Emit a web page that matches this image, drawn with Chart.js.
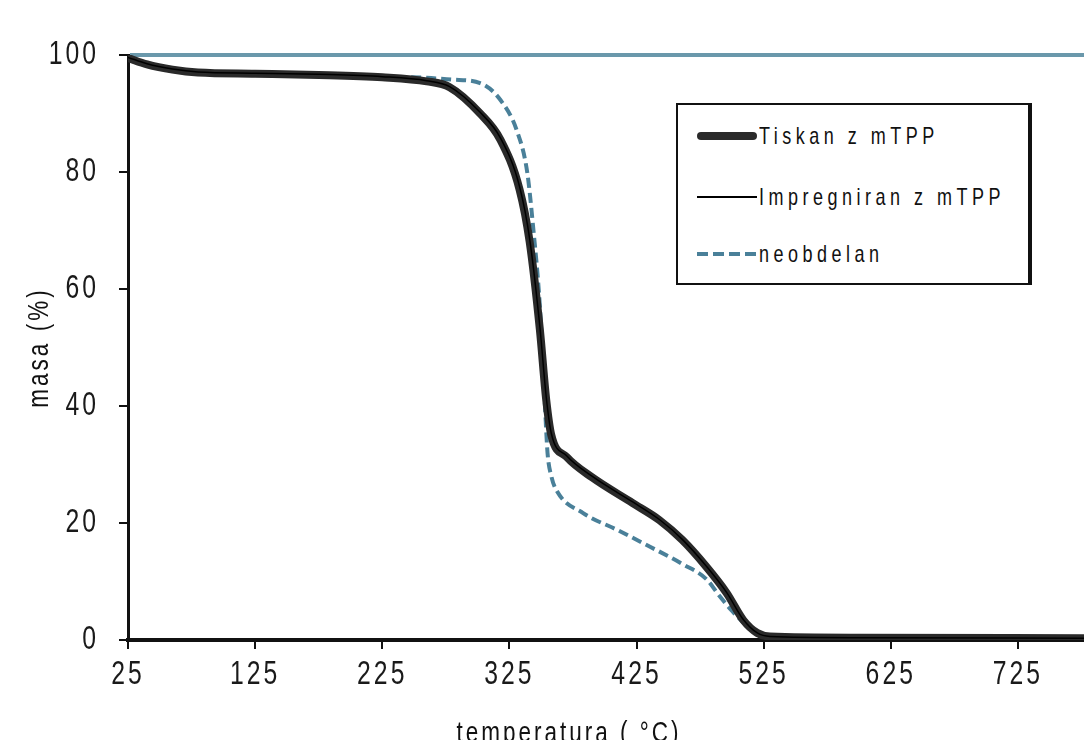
<!DOCTYPE html>
<html>
<head>
<meta charset="utf-8">
<script src="https://cdn.jsdelivr.net/npm/chart.js@4/dist/chart.umd.min.js"></script>
<style>
  html, body { margin: 0; padding: 0; background: #fff; overflow: hidden; }
  #wrap { position: relative; width: 1084px; height: 760px; }
  #legend {
    position: absolute; left: 676px; top: 103px; width: 350px; height: 178px;
    border: 2px solid #111; border-right-width: 4px; background: #fff;
    font-family: "Liberation Sans", Arial, sans-serif;
    font-size: 24px; letter-spacing: 6px; color: #111; white-space: nowrap;
  }
  .row { position: absolute; left: 19px; height: 30px; display: flex; align-items: center; }
  .swatch { width: 60px; margin-right: 2px; flex: none; }
  .row span { display: inline-block; transform: scaleX(0.75); transform-origin: left center; }
</style>
</head>
<body>
<div id="wrap">
  <canvas id="c"></canvas>
  <div id="legend"></div>
</div>
<script>
// temperature (°C) / mass (%)
var xTicks = [25, 125, 225, 325, 425, 525, 625, 725];
var yTicks = [0, 20, 40, 60, 80, 100];

var tiskanT = [25, 40, 60, 80, 125, 175, 225, 260, 278, 302, 318, 333, 341, 349, 354, 358, 370, 390, 422, 443, 461, 480, 496, 509, 520, 530, 600, 777];
var tiskanM = [99.5, 98.4, 97.5, 97, 96.8, 96.6, 96.2, 95.5, 94.5, 90, 85.5, 77, 68, 53, 41, 35, 31.3, 27.8, 23.4, 20.5, 17.1, 12.5, 8, 3.4, 1.2, 0.6, 0.4, 0.3];

var impregT = [25, 40, 60, 80, 125, 175, 225, 260, 278, 302, 318, 333, 341, 349, 354, 358, 370, 390, 422, 443, 461, 480, 496, 509, 520, 530, 600, 777];
var impregM = [99.6, 98.5, 97.6, 97.1, 96.9, 96.7, 96.3, 95.6, 94.6, 90.2, 85.8, 77.5, 68.5, 53.5, 41.5, 35.3, 31.5, 28, 23.6, 20.6, 17.2, 12.6, 8.1, 3.5, 1.2, 0.6, 0.4, 0.3];

var neobT = [25, 40, 60, 80, 125, 175, 225, 260, 280, 302, 318, 331, 339, 343.5, 349, 353, 355, 358, 362, 383, 410, 436, 461, 480, 490, 500, 509, 520, 530, 600, 777];
var neobM = [99.5, 98.4, 97.5, 97, 96.8, 96.6, 96.3, 96.1, 95.8, 95.2, 92.3, 87, 80, 71, 57, 40, 32, 28, 25.6, 21.7, 18.8, 15.9, 13, 10.4, 7.6, 5, 3, 1.1, 0.6, 0.4, 0.3];

var labels = ["Tiskan z mTPP", "Impregniran z mTPP", "neobdelan"];

function pts(xs, ys) {
  return xs.map(function (x, i) { return { x: x, y: ys[i] }; });
}

var TEAL = "#4a8099";
var fontTicks = { family: "'Liberation Sans', Arial, sans-serif", size: 33 };
var fontTitle = { family: "'Liberation Sans', Arial, sans-serif", size: 30 };

// narrow, widely spaced lettering like the original figure
var narrowText = {
  id: "narrowText",
  beforeInit: function (chart) {
    var ctx = chart.ctx;
    var orig = ctx.fillText.bind(ctx);
    ctx.fillText = function (t, x, y, w) {
      ctx.save();
      ctx.translate(x, y);
      ctx.scale(0.75, 1);
      ctx.letterSpacing = "4px";
      orig(t, 0, 0);
      ctx.restore();
    };
  }
};

var chart = new Chart(document.getElementById("c"), {
  type: "line",
  data: {
    datasets: [
      {
        label: labels[0], data: pts(tiskanT, tiskanM),
        borderColor: "#2a2a2a", borderWidth: 8, borderCapStyle: "round",
        pointRadius: 0, cubicInterpolationMode: "monotone", order: 2
      },
      {
        label: labels[1], data: pts(impregT, impregM),
        borderColor: "#000", borderWidth: 1.5,
        pointRadius: 0, cubicInterpolationMode: "monotone", order: 1
      },
      {
        label: labels[2], data: pts(neobT, neobM),
        borderColor: TEAL, borderWidth: 4, borderDash: [10, 5],
        pointRadius: 0, cubicInterpolationMode: "monotone", order: 3
      }
    ]
  },
  options: {
    responsive: true,
    maintainAspectRatio: false,
    animation: false,
    layout: { padding: { top: 55, right: 0, left: 0, bottom: 0 } },
    plugins: { legend: { display: false }, tooltip: { enabled: false } },
    scales: {
      x: {
        type: "linear", min: 25, max: 777,
        afterBuildTicks: function (s) { s.ticks = xTicks.map(function (v) { return { value: v }; }); },
        afterFit: function (s) { s.height = 120; },
        border: { display: true, color: "#111", width: 4 },
        grid: { drawOnChartArea: false, color: "#111", tickLength: 9, lineWidth: 2 },
        ticks: { color: "#1a1a1a", font: fontTicks, padding: 6, maxRotation: 0, autoSkip: false },
        title: {
          display: true, text: "temperatura ( °C)        ", color: "#111", font: fontTitle,
          padding: { top: 0, bottom: 8 }
        }
      },
      y: {
        min: 0, max: 100,
        afterBuildTicks: function (s) { s.ticks = yTicks.map(function (v) { return { value: v }; }); },
        afterFit: function (s) { s.width = 128; },
        border: { display: true, color: "#111", width: 3 },
        grid: {
          color: function (ctx) { return ctx.tick && ctx.tick.value === 100 ? "#6a98ab" : "rgba(0,0,0,0)"; },
          lineWidth: function (ctx) { return ctx.tick && ctx.tick.value === 100 ? 4 : 0; },
          tickColor: "#111", tickWidth: 2, tickLength: 9
        },
        ticks: { color: "#1a1a1a", font: fontTicks, padding: 20 },
        title: { display: true, text: "masa (%)", color: "#111", font: fontTitle, padding: { top: 22, bottom: 0 } }
      }
    }
  },
  plugins: [narrowText]
});

// legend box drawn as html from the dataset settings
var lg = document.getElementById("legend");
var rowTops = [16, 77, 134];
chart.data.datasets.forEach(function (ds, i) {
  var row = document.createElement("div");
  row.className = "row";
  row.style.top = rowTops[i] + "px";
  var sw = document.createElement("div");
  sw.className = "swatch";
  if (ds.borderDash) {
    sw.style.height = "4px";
    sw.style.background = "repeating-linear-gradient(90deg, " + ds.borderColor + " 0 11px, transparent 11px 16px)";
  } else {
    sw.style.height = ds.borderWidth + "px";
    sw.style.background = ds.borderColor;
    if (ds.borderWidth > 4) sw.style.borderRadius = "5px";
  }
  var tx = document.createElement("span");
  tx.textContent = ds.label;
  row.appendChild(sw);
  row.appendChild(tx);
  lg.appendChild(row);
});
</script>
</body>
</html>
